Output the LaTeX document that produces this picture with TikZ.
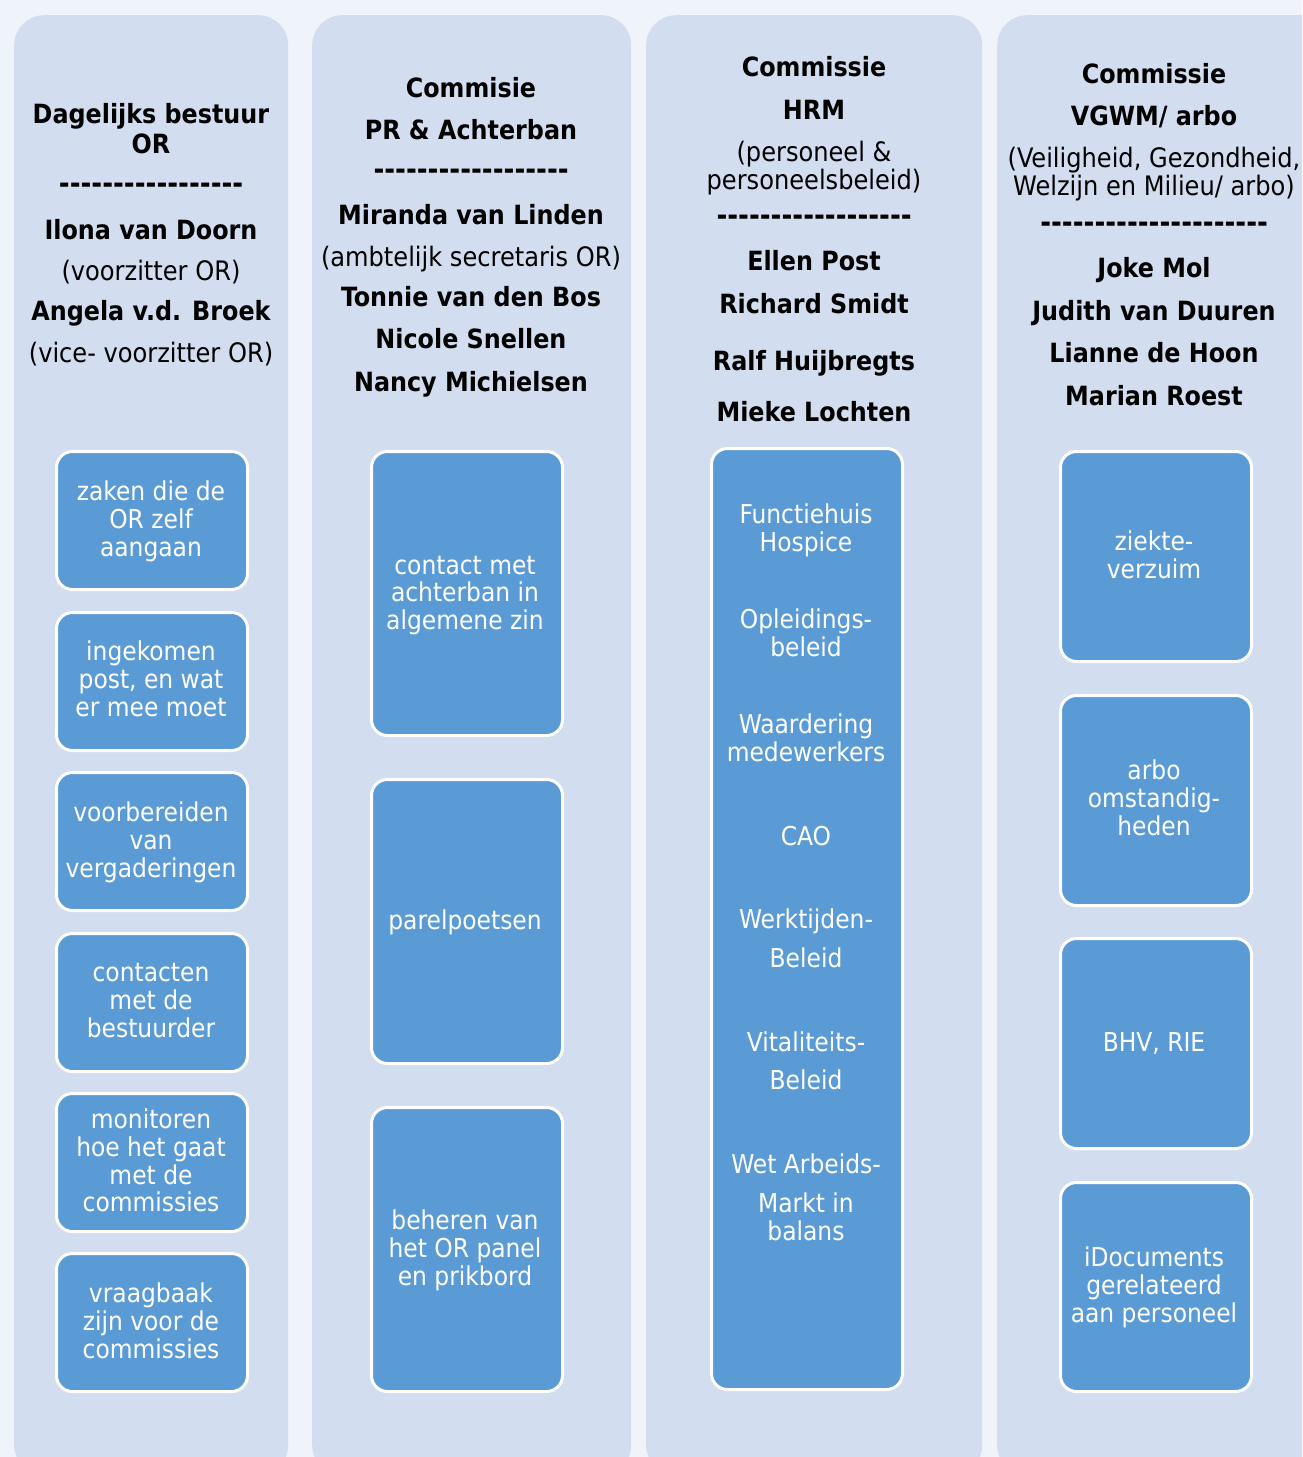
\documentclass[tikz,border=0pt]{standalone}
\usepackage{fontspec}
\setmainfont{DejaVu Sans Condensed}[Ligatures=TeXOff]
\definecolor{bgc}{HTML}{EFF3FA}
\definecolor{panelc}{HTML}{D2DEEF}
\definecolor{itemc}{HTML}{5B9BD5}
\begin{document}
\begin{tikzpicture}[x=1pt,y=-1pt,
  panel/.style={fill=panelc, rounded corners=30pt, inner sep=0pt, anchor=north west},
  item/.style={fill=itemc, draw=white, line width=3pt, rounded corners=16pt, inner sep=0pt, anchor=north west, minimum width=191pt},
  hdr/.style={anchor=base, font=\fontsize{26.5}{30}\selectfont\bfseries, inner sep=0pt},
  dsh/.style={anchor=base, font=\fontsize{29}{30}\selectfont\bfseries, inner sep=0pt},
  sub/.style={anchor=base, font=\fontsize{26.8}{28}\selectfont, inner sep=0pt},
  itx/.style={anchor=base, font=\fontsize{26}{28}\selectfont, text=white, inner sep=0pt}]
\useasboundingbox (0,0) rectangle (1302,1457);
\fill[bgc] (0,0) rectangle (1302,1457);
\begin{scope}
\clip (0,0) rectangle (1302,1457);
\node[panel, minimum width=274pt, minimum height=1460pt] (p1) at (14,15) {};
\node[panel, minimum width=319pt, minimum height=1460pt] (p2) at (312,15) {};
\node[panel, minimum width=336pt, minimum height=1460pt] (p3) at (646,15) {};
\node[panel, minimum width=340pt, minimum height=1460pt] (p4) at (997,15) {};
\end{scope}
% column 1 header
\node[hdr] (h1a) at (151,123) {Dagelijks bestuur};
\node[hdr] (h1b) at (151,153) {OR};
\node[dsh] (h1c) at (151,193) {-----------------};
\node[hdr] (h1d) at (151,239) {Ilona van Doorn};
\node[sub] (h1e) at (151,280) {(voorzitter OR)};
\node[hdr] (h1f) at (151,320) {Angela v.d. Broek};
\node[sub] (h1g) at (151,362) {(vice- voorzitter OR)};
% column 2 header
\node[hdr] (h2a) at (471,97) {Commisie};
\node[hdr] (h2b) at (471,139) {PR \& Achterban};
\node[dsh] (h2c) at (471,179) {------------------};
\node[hdr] (h2d) at (471,224) {Miranda van Linden};
\node[sub] (h2e) at (471,266) {(ambtelijk secretaris OR)};
\node[hdr] (h2f) at (471,306) {Tonnie van den Bos};
\node[hdr] (h2g) at (471,348) {Nicole Snellen};
\node[hdr] (h2h) at (471,391) {Nancy Michielsen};
% column 3 header
\node[hdr] (h3a) at (814,76) {Commissie};
\node[hdr] (h3b) at (814,119) {HRM};
\node[sub] (h3c) at (814,161) {(personeel \&};
\node[sub] (h3d) at (814,189) {personeelsbeleid)};
\node[dsh] (h3e) at (814,225) {------------------};
\node[hdr] (h3f) at (814,270) {Ellen Post};
\node[hdr] (h3g) at (814,313) {Richard Smidt};
\node[hdr] (h3h) at (814,370) {Ralf Huijbregts};
\node[hdr] (h3i) at (814,421) {Mieke Lochten};
% column 4 header
\node[hdr] (h4a) at (1154,83) {Commissie};
\node[hdr] (h4b) at (1154,125) {VGWM/ arbo};
\node[sub] (h4c) at (1154,167) {(Veiligheid, Gezondheid,};
\node[sub] (h4d) at (1154,195) {Welzijn en Milieu/ arbo)};
\node[dsh] (h4e) at (1154,232) {---------------------};
\node[hdr] (h4f) at (1154,277) {Joke Mol};
\node[hdr] (h4g) at (1154,320) {Judith van Duuren};
\node[hdr] (h4h) at (1154,362) {Lianne de Hoon};
\node[hdr] (h4i) at (1154,405) {Marian Roest};
% column 1 boxes
\node[item, minimum height=138pt] (b11) at (55,450) {};
\node[item, minimum height=138pt] (b12) at (55,611) {};
\node[item, minimum height=138pt] (b13) at (55,771) {};
\node[item, minimum height=138pt] (b14) at (55,932) {};
\node[item, minimum height=138pt] (b15) at (55,1092) {};
\node[item, minimum height=138pt] (b16) at (55,1252) {};
% column 2 boxes
\node[item, minimum height=284pt] (b21) at (370,450) {};
\node[item, minimum height=284pt] (b22) at (370,778) {};
\node[item, minimum height=284pt] (b23) at (370,1106) {};
% column 3 box
\node[item, minimum height=941pt] (b31) at (710,447) {};
% column 4 boxes
\node[item, minimum height=210pt] (b41) at (1059,450) {};
\node[item, minimum height=210pt] (b42) at (1059,694) {};
\node[item, minimum height=210pt] (b43) at (1059,937) {};
\node[item, minimum height=209pt] (b44) at (1059,1181) {};
% column 1 box texts
\foreach \y/\t in {500/zaken die de, 528/OR zelf, 556/aangaan,
  660/ingekomen, 688/{post, en wat}, 716/er mee moet,
  821/voorbereiden, 849/van, 877/vergaderingen,
  981/contacten, 1009/met de, 1037/bestuurder,
  1128/monitoren, 1156/hoe het gaat, 1184/met de, 1211/commissies,
  1302/vraagbaak, 1330/zijn voor de, 1358/commissies}
  \node[itx] (t1-\y) at (151,\y) {\t};
% column 2 box texts
\foreach \y/\t in {574/contact met, 601/achterban in, 629/algemene zin,
  929/parelpoetsen,
  1229/beheren van, 1257/het OR panel, 1285/en prikbord}
  \node[itx] (t2-\y) at (465,\y) {\t};
% column 3 box texts
\foreach \y/\t in {523/Functiehuis, 551/Hospice, 628/Opleidings-, 656/beleid,
  733/Waardering, 761/medewerkers, 845/CAO, 928/Werktijden-, 967/Beleid,
  1051/Vitaliteits-, 1089/Beleid, 1173/Wet Arbeids-, 1212/Markt in, 1240/balans}
  \node[itx] (t3-\y) at (806,\y) {\t};
% column 4 box texts
\foreach \y/\t in {550/ziekte-, 578/verzuim, 779/arbo, 807/omstandig-, 835/heden,
  1051/{BHV, RIE}, 1266/iDocuments, 1294/gerelateerd, 1322/aan personeel}
  \node[itx] (t4-\y) at (1154,\y) {\t};
\end{tikzpicture}
\end{document}
